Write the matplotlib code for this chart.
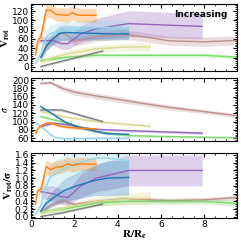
import matplotlib
matplotlib.use("Agg")
import matplotlib.pyplot as plt
from matplotlib.ticker import AutoMinorLocator, MultipleLocator
import numpy as np

# radius in units of R_e, one list per galaxy
R_o = [0.2, 0.3, 0.45, 0.7, 0.9, 1.15, 1.4, 1.7, 1.9, 2.2, 3.0]
V_o = [26, 54, 65, 122, 122, 113, 112, 111, 116, 111, 111]
Ve_o = [8, 10, 12, 16, 16, 15, 15, 15, 15, 15, 15]
S_o = [70, 82, 90, 96, 97, 92, 88, 86, 85, 84, 82]
Q_o = [0.33, 0.68, 0.7, 1.3, 1.22, 1.28, 1.3, 1.37, 1.33, 1.37, 1.36]
Qe_o = [0.05, 0.08, 0.1, 0.18, 0.18, 0.17, 0.17, 0.17, 0.17, 0.17, 0.17]

R_c = [0.2, 0.45, 0.7, 0.9, 1.15, 1.7, 2.3, 3.0, 3.5, 4.5]
V_c = [7, 29, 64, 72, 75, 78, 82, 84, 85, 84]
Ve_c = [3, 8, 15, 18, 20, 20, 18, 17, 16, 15]
S_c = [98, 88, 78, 68, 61, 58, 59, 60, 60, 60]
Q_c = [0.06, 0.3, 0.8, 1.03, 1.13, 1.3, 1.42, 1.52, 1.52, 1.45]
Qe_c = [0.03, 0.1, 0.25, 0.3, 0.35, 0.35, 0.3, 0.3, 0.3, 0.3]

R_b = [0.45, 0.7, 1.0, 1.3, 1.6, 2.2, 3.0, 3.5, 4.5]
V_b = [20, 45, 60, 72, 74, 73, 72, 71, 71]
Ve_b = [5, 10, 14, 16, 16, 15, 14, 13, 13]
S_b = [136, 128, 118, 108, 98, 86, 76, 71, 69]
Q_b = [0.15, 0.35, 0.48, 0.6, 0.7, 0.82, 0.95, 1.0, 1.02]
Qe_b = [0.05, 0.15, 0.2, 0.25, 0.3, 0.35, 0.4, 0.45, 0.45]

R_p = [0.45, 1.0, 1.4, 1.7, 2.3, 3.0, 4.5, 7.9]
V_p = [56, 57, 50, 50, 71, 82, 93, 87]
Ve_p = [8, 10, 12, 12, 18, 22, 28, 27]
S_p = [88, 96, 94, 92, 86, 81, 78, 72]
Q_p = [0.65, 0.6, 0.52, 0.5, 0.8, 1.0, 1.2, 1.2]
Qe_p = [0.15, 0.2, 0.2, 0.2, 0.3, 0.35, 0.4, 0.4]

R_br = [0.45, 0.9, 1.45, 2.0, 3.0, 4.2, 5.0, 6.4, 8.0, 9.5]
V_br = [22, 55, 75, 55, 65, 70, 66, 56, 54, 57]
Ve_br = [6, 8, 10, 10, 10, 10, 10, 10, 10, 10]
S_br = [192, 194, 180, 171, 162, 152, 145, 134, 124, 114]
Se_br = [3, 4, 6, 7, 7, 7, 6, 6, 5, 5]
Q_br = [0.12, 0.3, 0.42, 0.32, 0.4, 0.46, 0.45, 0.42, 0.44, 0.5]

R_g = [0.45, 1.0, 1.7, 3.0, 4.5, 6.0, 8.0, 9.5]
V_g = [14, 17, 21, 25, 25, 25, 25, 21]
S_g = [112, 105, 96, 76, 66, 64, 62, 61]
Q_g = [0.13, 0.17, 0.22, 0.36, 0.4, 0.4, 0.4, 0.35]

R_y = [0.45, 1.0, 1.7, 3.0, 4.5, 5.5]
V_y = [11, 20, 28, 39, 43, 43]
Ve_y = [4, 6, 7, 8, 8, 8]
S_y = [124, 118, 110, 100, 93, 89]
Q_y = [0.1, 0.17, 0.25, 0.4, 0.46, 0.48]
Qe_y = [0.04, 0.06, 0.08, 0.12, 0.15, 0.17]

R_k = [0.45, 1.4, 3.3]
V_k = [1, 12, 34]
S_k = [128, 128, 100]
Q_k = [0.01, 0.1, 0.33]

# (color, R, vrot, vrot_err, sigma, sigma_err, ratio, ratio_err)
gals = [
    ("#bc8f8f", R_br, V_br, Ve_br, S_br, Se_br, Q_br, 0.06),
    ("#7ddc6f", R_g, V_g, 4, S_g, 3, Q_g, 0.07),
    ("#dbdb8d", R_y, V_y, Ve_y, S_y, 3, Q_y, Qe_y),
    ("#7f7f7f", R_k, V_k, 2, S_k, 3, Q_k, 0.02),
    ("#9467bd", R_p, V_p, Ve_p, S_p, 3, Q_p, Qe_p),
    ("#1f77b4", R_b, V_b, Ve_b, S_b, 3, Q_b, Qe_b),
    ("#94d7ea", R_c, V_c, Ve_c, S_c, 3, Q_c, Qe_c),
    ("#ff7f0e", R_o, V_o, Ve_o, S_o, 3, Q_o, Qe_o),
]

plt.rcParams["font.size"] = 6
plt.rcParams["mathtext.fontset"] = "stix"
fig = plt.figure(figsize=(2.41, 2.41), dpi=100)
ax1 = fig.add_axes([0.129, 0.705, 0.854, 0.278])
ax2 = fig.add_axes([0.129, 0.415, 0.854, 0.261])
ax3 = fig.add_axes([0.129, 0.097, 0.854, 0.268])

for col, r, v, ve, s, se, q, qe in gals:
    r = np.array(r)
    for ax, y, e in ((ax1, v, ve), (ax2, s, se), (ax3, q, qe)):
        y = np.array(y, dtype=float)
        e = np.array(e, dtype=float)
        ax.fill_between(r, y - e, y + e, color=col, alpha=0.3, lw=0)
        ax.plot(r, y, color=col, lw=1.0)

ax1.set_ylim(-9, 135)
ax2.set_ylim(53, 205)
ax3.set_ylim(-0.02, 1.65)
ax1.yaxis.set_major_locator(MultipleLocator(20))
ax2.yaxis.set_major_locator(MultipleLocator(20))
ax3.yaxis.set_major_locator(MultipleLocator(0.2))

for ax in (ax1, ax2, ax3):
    ax.set_xlim(0, 9.5)
    ax.xaxis.set_major_locator(MultipleLocator(2))
    ax.xaxis.set_minor_locator(AutoMinorLocator())
    ax.yaxis.set_minor_locator(AutoMinorLocator(5))
    ax.tick_params(which="both", direction="in", top=True, right=True, labelsize=6.5, pad=1.5)
    ax.tick_params(which="major", length=3)
    ax.tick_params(which="minor", length=1.5)
ax1.tick_params(labelbottom=False)
ax2.tick_params(labelbottom=False)

ax1.set_ylabel(r"$\mathbf{V_{rot}}$", fontsize=8, labelpad=0)
ax2.set_ylabel(r"$\sigma$", fontsize=7, labelpad=1)
ax3.set_ylabel(r"$\mathbf{V_{rot}/\sigma}$", fontsize=8, labelpad=0)
ax3.set_xlabel(r"$\mathbf{R/R_e}$", fontsize=8, labelpad=0)
ax1.text(0.955, 0.84, "Increasing", transform=ax1.transAxes, ha="right", va="center",
         fontsize=6.5, fontweight="bold")

fig.savefig("out.png", dpi=100)
